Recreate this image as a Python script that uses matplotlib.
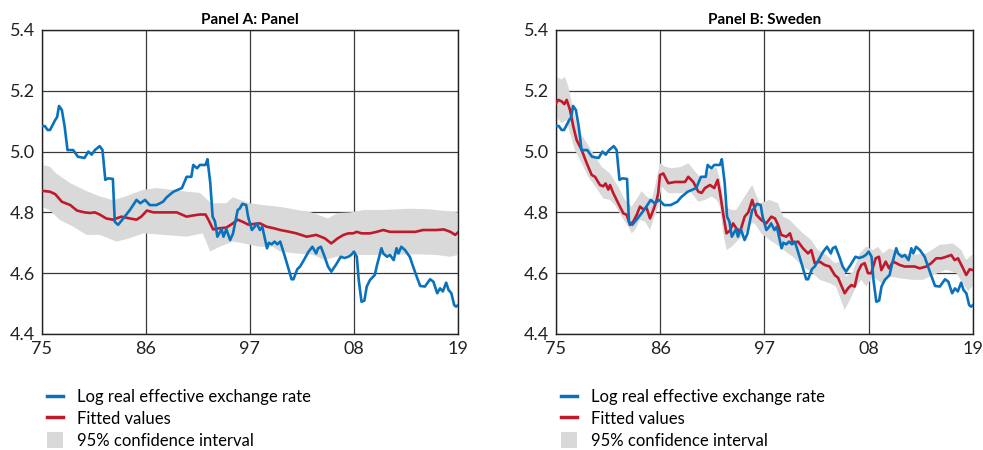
import numpy as np
import matplotlib
matplotlib.use('Agg')
import matplotlib.pyplot as plt
from matplotlib.patches import Patch
from matplotlib.lines import Line2D

plt.rcParams['font.family'] = ['Lato', 'DejaVu Sans']

# Log real effective exchange rate (same series in both panels)
reer_years = [1975.0, 1975.3, 1975.6, 1975.85, 1976.4, 1976.6, 1976.8, 1977.1, 1977.4, 1977.7,
              1978.3, 1978.8, 1979.5, 1979.9, 1980.25, 1980.6, 1981.1, 1981.4, 1981.7, 1982.0,
              1982.5, 1982.7, 1983.05, 1983.6, 1984.3, 1985.0, 1985.4, 1985.9, 1986.4, 1987.1,
              1987.8, 1988.2, 1988.9, 1989.8, 1990.3, 1990.8, 1991.0, 1991.4, 1991.7, 1992.3,
              1992.5, 1992.8, 1993.05, 1993.3, 1993.55, 1994.0, 1994.2, 1994.5, 1994.9, 1995.2,
              1995.7, 1995.9, 1996.2, 1996.6, 1996.8, 1997.2, 1997.5, 1997.7, 1998.05, 1998.3,
              1998.8, 1999.0, 1999.3, 1999.6, 1999.9, 2000.2, 2000.7, 2000.9, 2001.4, 2001.6,
              2002.0, 2002.3, 2002.7, 2003.2, 2003.6, 2004.0, 2004.2, 2004.5, 2004.9, 2005.25,
              2005.6, 2006.1, 2006.6, 2007.0, 2007.4, 2007.7, 2008.0, 2008.3, 2008.5, 2008.8,
              2009.1, 2009.35, 2009.7, 2010.2, 2010.4, 2010.9, 2011.1, 2011.5, 2011.8, 2012.2,
              2012.5, 2012.7, 2013.0, 2013.4, 2013.9, 2014.5, 2015.0, 2015.5, 2016.05, 2016.4,
              2016.8, 2017.1, 2017.4, 2017.75, 2018.0, 2018.3, 2018.6, 2018.8, 2019.0]
reer_vals = [5.084, 5.084, 5.071, 5.071, 5.104, 5.113, 5.150, 5.137, 5.082, 5.005,
             5.005, 4.983, 4.979, 5.000, 4.990, 5.005, 5.018, 5.005, 4.907, 4.912,
             4.910, 4.769, 4.759, 4.780, 4.808, 4.841, 4.830, 4.841, 4.824, 4.824,
             4.835, 4.850, 4.868, 4.880, 4.917, 4.917, 4.956, 4.945, 4.956, 4.956,
             4.975, 4.897, 4.786, 4.770, 4.720, 4.745, 4.720, 4.745, 4.709, 4.730,
             4.808, 4.812, 4.828, 4.824, 4.786, 4.742, 4.753, 4.764, 4.742, 4.753,
             4.682, 4.700, 4.695, 4.704, 4.695, 4.704, 4.654, 4.633, 4.580, 4.580,
             4.613, 4.622, 4.643, 4.671, 4.687, 4.665, 4.682, 4.687, 4.654, 4.622,
             4.605, 4.628, 4.654, 4.650, 4.654, 4.660, 4.671, 4.654, 4.578, 4.506,
             4.510, 4.556, 4.578, 4.594, 4.622, 4.682, 4.665, 4.654, 4.660, 4.643,
             4.682, 4.665, 4.687, 4.676, 4.654, 4.600, 4.558, 4.556, 4.580, 4.572,
             4.534, 4.550, 4.540, 4.569, 4.545, 4.534, 4.495, 4.490, 4.495]

# Panel A: fitted values and 95% band
fit_a_years = [1975.0, 1975.85, 1976.4, 1977.1, 1978.0, 1978.7, 1979.5, 1980.1, 1980.6, 1981.1,
               1981.8, 1982.5, 1983.4, 1984.3, 1985.0, 1985.5, 1986.1, 1986.8, 1987.8, 1989.25,
               1990.3, 1991.0, 1991.7, 1992.3, 1992.6, 1993.1, 1993.8, 1994.5, 1995.2, 1995.7,
               1996.3, 1996.8, 1998.05, 1998.75, 1999.5, 2000.2, 2001.2, 2001.9, 2003.0, 2004.0,
               2004.9, 2005.6, 2006.3, 2006.9, 2007.4, 2007.9, 2008.3, 2008.8, 2009.7, 2010.4,
               2011.1, 2011.8, 2013.2, 2014.5, 2015.3, 2016.7, 2017.5, 2018.2, 2018.7, 2019.0]
fit_a_vals = [4.871, 4.868, 4.860, 4.835, 4.824, 4.806, 4.800, 4.798, 4.800, 4.793,
              4.780, 4.776, 4.786, 4.780, 4.776, 4.786, 4.806, 4.800, 4.800, 4.800,
              4.786, 4.790, 4.793, 4.793, 4.776, 4.744, 4.748, 4.750, 4.764, 4.776,
              4.768, 4.760, 4.764, 4.753, 4.748, 4.742, 4.736, 4.731, 4.720, 4.726,
              4.715, 4.698, 4.715, 4.726, 4.731, 4.731, 4.736, 4.731, 4.731, 4.736,
              4.742, 4.736, 4.736, 4.736, 4.742, 4.742, 4.744, 4.736, 4.726, 4.734]
up_a_years = [1975.0, 1975.85, 1976.5, 1978.0, 1979.7, 1981.1, 1982.5, 1983.9, 1985.7, 1987.1,
              1988.9, 1990.3, 1991.7, 1992.9, 1994.5, 1995.2, 1996.0, 1997.0, 1998.4, 2000.2,
              2002.0, 2003.5, 2005.25, 2006.3, 2007.6, 2009.1, 2011.1, 2013.9, 2016.0, 2019.0]
up_a_vals = [4.956, 4.950, 4.928, 4.896, 4.870, 4.853, 4.840, 4.853, 4.874, 4.880,
             4.874, 4.868, 4.864, 4.830, 4.830, 4.850, 4.840, 4.830, 4.824, 4.818,
             4.808, 4.800, 4.780, 4.798, 4.800, 4.808, 4.808, 4.812, 4.810, 4.800]
lo_a_years = [1975.0, 1975.85, 1976.9, 1978.3, 1979.7, 1981.1, 1982.9, 1984.3, 1985.7, 1987.8,
              1990.3, 1992.0, 1992.8, 1993.8, 1995.2, 1996.8, 1998.0, 1999.4, 2000.2, 2001.9,
              2003.7, 2004.9, 2006.1, 2007.9, 2009.7, 2011.8, 2014.5, 2016.7, 2018.2, 2019.0]
lo_a_vals = [4.819, 4.806, 4.775, 4.753, 4.726, 4.726, 4.704, 4.715, 4.731, 4.726,
             4.720, 4.731, 4.671, 4.687, 4.704, 4.695, 4.687, 4.687, 4.671, 4.665,
             4.660, 4.643, 4.654, 4.660, 4.660, 4.660, 4.662, 4.660, 4.654, 4.660]

# Panel B: fitted values and 95% band (Sweden)
fit_b_years = [1975.0, 1975.24, 1975.6, 1975.88, 1976.13, 1976.48, 1976.83, 1977.18, 1977.71, 1978.24,
               1978.77, 1979.12, 1979.64, 1979.99, 1980.24, 1980.52, 1980.70, 1981.05, 1981.57, 1982.10,
               1982.46, 1982.81, 1983.16, 1983.52, 1983.86, 1984.21, 1984.57, 1984.92, 1985.27, 1985.63,
               1985.79, 1985.97, 1986.32, 1986.85, 1987.56, 1988.61, 1988.96, 1989.49, 1990.02, 1990.37,
               1990.72, 1991.25, 1991.70, 1992.06, 1992.31, 1992.67, 1992.99, 1993.36, 1993.68, 1994.02,
               1994.42, 1994.91, 1995.29, 1995.71, 1996.14, 1996.66, 1997.19, 1997.72, 1998.11, 1998.43,
               1998.77, 1999.30, 1999.69, 2000.01, 2000.54, 2001.06, 2001.59, 2001.94, 2002.30, 2002.83,
               2003.35, 2003.88, 2004.41, 2004.76, 2005.46, 2005.81, 2006.16, 2006.52, 2006.87, 2007.22,
               2007.57, 2007.92, 2008.27, 2008.73, 2009.08, 2009.33, 2009.79, 2010.14, 2010.56, 2010.91,
               2011.27, 2011.79, 2012.85, 2013.38, 2014.07, 2014.60, 2015.13, 2015.66, 2016.18, 2016.71,
               2017.07, 2017.42, 2017.95, 2018.29, 2018.65, 2019.0]
fit_b_vals = [5.159, 5.170, 5.165, 5.156, 5.170, 5.137, 5.082, 5.038, 5.005, 4.962,
              4.923, 4.917, 4.890, 4.886, 4.895, 4.875, 4.890, 4.863, 4.830, 4.797,
              4.792, 4.759, 4.770, 4.792, 4.819, 4.810, 4.814, 4.780, 4.808, 4.841,
              4.864, 4.923, 4.928, 4.896, 4.900, 4.900, 4.917, 4.900, 4.868, 4.864,
              4.880, 4.890, 4.880, 4.907, 4.864, 4.790, 4.731, 4.740, 4.764, 4.748,
              4.736, 4.786, 4.800, 4.841, 4.792, 4.775, 4.764, 4.786, 4.780, 4.759,
              4.726, 4.720, 4.731, 4.698, 4.704, 4.682, 4.665, 4.676, 4.633, 4.638,
              4.627, 4.622, 4.594, 4.585, 4.534, 4.550, 4.561, 4.556, 4.605, 4.627,
              4.633, 4.600, 4.600, 4.649, 4.654, 4.610, 4.638, 4.616, 4.638, 4.633,
              4.627, 4.622, 4.622, 4.616, 4.622, 4.633, 4.649, 4.649, 4.654, 4.660,
              4.643, 4.649, 4.616, 4.594, 4.613, 4.610]
up_b_years = [1975.0, 1975.6, 1975.95, 1976.30, 1976.83, 1977.35, 1978.06, 1978.94, 1979.82, 1980.70,
              1981.57, 1982.28, 1982.99, 1983.68, 1984.04, 1984.57, 1985.10, 1985.45, 1985.97, 1986.50,
              1987.21, 1988.26, 1988.96, 1989.85, 1990.37, 1991.25, 1991.94, 1992.31, 1992.83, 1993.54,
              1994.02, 1994.91, 1995.71, 1996.49, 1997.55, 1998.43, 1998.95, 1999.66, 2000.36, 2001.06,
              2001.94, 2002.65, 2003.52, 2004.41, 2004.94, 2005.63, 2006.34, 2007.05, 2007.74, 2008.45,
              2008.98, 2009.50, 2010.21, 2011.27, 2012.67, 2014.07, 2015.49, 2016.89, 2017.77, 2018.29,
              2018.86, 2019.0]
up_b_vals = [5.246, 5.237, 5.246, 5.214, 5.137, 5.071, 5.038, 4.994, 4.950, 4.928,
             4.885, 4.841, 4.819, 4.852, 4.870, 4.852, 4.841, 4.885, 4.962, 4.950,
             4.945, 4.950, 4.962, 4.928, 4.910, 4.939, 4.948, 4.907, 4.819, 4.808,
             4.808, 4.852, 4.890, 4.830, 4.841, 4.830, 4.786, 4.775, 4.753, 4.731,
             4.709, 4.676, 4.660, 4.633, 4.638, 4.589, 4.605, 4.665, 4.687, 4.676,
             4.687, 4.665, 4.682, 4.665, 4.660, 4.665, 4.693, 4.698, 4.676, 4.643,
             4.660, 4.660]
lo_b_years = [1975.0, 1975.6, 1976.13, 1976.48, 1977.0, 1977.71, 1978.41, 1979.29, 1979.99, 1980.70,
              1981.23, 1981.93, 1982.63, 1982.99, 1983.34, 1983.86, 1984.39, 1984.92, 1985.27, 1985.79,
              1986.15, 1986.85, 1988.26, 1989.14, 1990.02, 1990.72, 1991.43, 1991.96, 1992.31, 1992.65,
              1993.01, 1993.54, 1994.24, 1994.94, 1995.64, 1995.96, 1996.66, 1997.55, 1998.60, 1999.48,
              2000.01, 2001.06, 2002.12, 2002.83, 2003.88, 2004.54, 2004.94, 2005.46, 2006.02, 2006.69,
              2007.22, 2007.74, 2008.45, 2009.33, 2010.21, 2011.27, 2012.67, 2013.73, 2014.78, 2016.18,
              2017.24, 2017.95, 2018.48, 2019.0]
lo_b_vals = [5.115, 5.093, 5.104, 5.060, 5.005, 4.962, 4.917, 4.879, 4.846, 4.841,
             4.824, 4.786, 4.753, 4.731, 4.742, 4.775, 4.770, 4.742, 4.775, 4.819,
             4.885, 4.863, 4.863, 4.870, 4.835, 4.841, 4.852, 4.841, 4.819, 4.731,
             4.676, 4.687, 4.709, 4.731, 4.764, 4.764, 4.731, 4.709, 4.687, 4.665,
             4.654, 4.622, 4.600, 4.578, 4.567, 4.556, 4.523, 4.479, 4.512, 4.556,
             4.578, 4.556, 4.589, 4.567, 4.589, 4.583, 4.578, 4.578, 4.594, 4.611,
             4.600, 4.567, 4.540, 4.560]

x_ticks = [1975, 1986, 1997, 2008, 2019]
x_labels = ['75', '86', '97', '08', '19']
y_ticks = [4.4, 4.6, 4.8, 5.0, 5.2, 5.4]

blue = '#0a72bd'
red = '#c0192c'
grey = '#d9d9d9'


def draw_panel(ax, title, fy, fv, uy, uv, ly, lv):
    # Konfidenzband als Polygon aus oberem und unterem Rand
    bx = np.r_[uy, ly[::-1]]
    bv = np.r_[uv, lv[::-1]]
    ax.fill(bx, bv, color=grey, lw=0, zorder=2)
    ax.plot(fy, fv, color=red, lw=1.9, zorder=3)
    ax.plot(reer_years, reer_vals, color=blue, lw=1.9, zorder=4)

    ax.set_xlim(1975, 2019)
    ax.set_ylim(4.4, 5.4)
    ax.set_xticks(x_ticks)
    ax.set_xticklabels(x_labels)
    ax.set_yticks(y_ticks)
    ax.set_yticklabels([f'{v:.1f}' for v in y_ticks])
    ax.tick_params(length=0, labelsize=13, pad=5, colors='#222222')
    ax.grid(True, color='#3a3a3a', lw=0.9, zorder=1)
    ax.set_axisbelow(True)
    for s in ax.spines.values():
        s.set_color('#222222')
        s.set_linewidth(1.0)
    ax.set_title(title, fontsize=11, fontweight='bold', pad=4)

    handles = [Line2D([], [], color=blue, lw=2.5),
               Line2D([], [], color=red, lw=2.5),
               Patch(facecolor=grey, edgecolor='none')]
    labels = ['Log real effective exchange rate', 'Fitted values', '95% confidence interval']
    ax.legend(handles, labels, loc='upper left', bbox_to_anchor=(-0.005, -0.158),
              frameon=False, fontsize=12, handlelength=1.0, handleheight=1.1,
              handletextpad=0.85, labelspacing=0.3, borderaxespad=0)


fig = plt.figure(figsize=(9.83, 4.5), dpi=100)
ax1 = fig.add_axes([0.0427, 0.2578, 0.4232, 0.6756])
ax2 = fig.add_axes([0.5656, 0.2578, 0.4242, 0.6756])

draw_panel(ax1, 'Panel A: Panel', fit_a_years, fit_a_vals, up_a_years, up_a_vals, lo_a_years, lo_a_vals)
draw_panel(ax2, 'Panel B: Sweden', fit_b_years, fit_b_vals, up_b_years, up_b_vals, lo_b_years, lo_b_vals)

fig.savefig('out.png', dpi=100)
